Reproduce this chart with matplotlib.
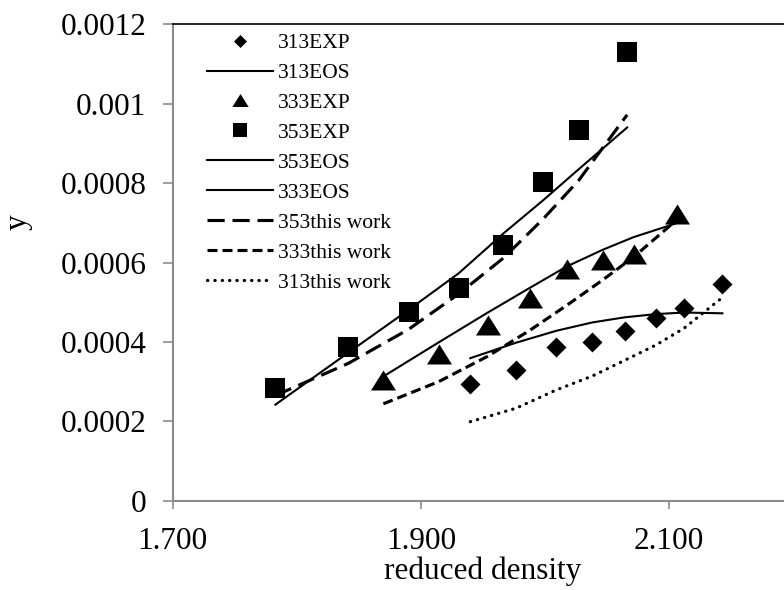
import matplotlib
matplotlib.use("Agg")
import matplotlib.pyplot as plt
from matplotlib.ticker import FixedLocator, FixedFormatter

plt.rcParams['font.family'] = ['Liberation Serif', 'DejaVu Serif']

# ---- data ----
x313 = [1.9399, 1.9768, 2.0092, 2.0382, 2.0646, 2.0894, 2.1120, 2.1431]
y313_exp = [0.000295, 0.000329, 0.000387, 0.000401, 0.000428, 0.000459, 0.000486, 0.000545]
y313_eos = [0.000359, 0.000398, 0.000428, 0.000449, 0.000462, 0.000470, 0.000474, 0.000472]
y313_tw = [0.000199, 0.000233, 0.000279, 0.000314, 0.000354, 0.000392, 0.000434, 0.000512]

x333 = [1.8698, 1.9145, 1.9540, 1.9878, 2.0176, 2.0466, 2.0716, 2.1062]
y333_exp = [0.000303, 0.000370, 0.000443, 0.000511, 0.000584, 0.000606, 0.000622, 0.000721]
y333_eos = [0.000313, 0.000399, 0.000474, 0.000536, 0.000590, 0.000632, 0.000664, 0.000699]
y333_tw = [0.000244, 0.000300, 0.000364, 0.000429, 0.000492, 0.000556, 0.000614, 0.000707]

x353 = [1.7828, 1.8416, 1.8903, 1.9306, 1.9665, 1.9987, 2.0273, 2.0663]
y353_exp = [0.000284, 0.000387, 0.000476, 0.000536, 0.000644, 0.000804, 0.000933, 0.001130]
y353_eos = [0.000242, 0.000373, 0.000481, 0.000573, 0.000673, 0.000757, 0.000835, 0.000940]
y353_tw = [0.000265, 0.000346, 0.000432, 0.000521, 0.000611, 0.000710, 0.000807, 0.000972]

x_ticks = [1.7, 1.9, 2.1]
x_ticklabels = ['1.700', '1.900', '2.100']
y_ticks = [0, 0.0002, 0.0004, 0.0006, 0.0008, 0.001, 0.0012]
y_ticklabels = ['0', '0.0002', '0.0004', '0.0006', '0.0008', '0.001', '0.0012']

# ---- figure ----
W, H = 784, 590
fig = plt.figure(figsize=(W / 100, H / 100), dpi=100)
ax = fig.add_axes([172.7 / W, 1 - 500.7 / H, 620.3 / W, 476.4 / H])

diamond = [(0, 1), (1, 0), (0, -1), (-1, 0)]
triangle = [(-1, -0.8), (1, -0.8), (0, 0.8)]

lw_solid = 1.5
lw_dash = 2.25

ax.plot(x313, y313_exp, linestyle='none', marker=diamond, ms=14.4, color='black', mec='black', mew=0, label='313EXP')
ax.plot(x313, y313_eos, '-', color='black', lw=lw_solid, label='313EOS')
ax.plot(x333, y333_exp, linestyle='none', marker=triangle, ms=18, color='black', mec='black', mew=0, label='333EXP')
ax.plot(x353, y353_exp, linestyle='none', marker='s', ms=14.4, color='black', mec='black', mew=0, label='353EXP')
ax.plot(x353, y353_eos, '-', color='black', lw=lw_solid, label='353EOS')
ax.plot(x333, y333_eos, '-', color='black', lw=lw_solid, label='333EOS')
ax.plot(x353, y353_tw, color='black', lw=lw_dash, dashes=(5.5, 2.5), label='353this work')
ax.plot(x333, y333_tw, color='black', lw=lw_dash, dashes=(3.2, 1.6), label='333this work')
ax.plot(x313, y313_tw, color='black', lw=2.3, dashes=(0.1, 2.2), dash_capstyle='round', label='313this work')

ax.set_xlim(1.7, 2.2)
ax.set_ylim(0, 0.0012)
ax.xaxis.set_major_locator(FixedLocator(x_ticks))
ax.xaxis.set_major_formatter(FixedFormatter(x_ticklabels))
ax.yaxis.set_major_locator(FixedLocator(y_ticks))
ax.yaxis.set_major_formatter(FixedFormatter(y_ticklabels))

grey = '#8c8c8c'
for s in ['left', 'bottom']:
    ax.spines[s].set_color(grey)
    ax.spines[s].set_linewidth(1.5)
ax.spines['top'].set_color('black')
ax.spines['top'].set_linewidth(1.2)
ax.spines['right'].set_visible(False)

ax.tick_params(axis='both', direction='out', color=grey, width=1.2, labelsize=22.5, labelcolor='black')
ax.tick_params(axis='y', length=7, pad=12)
ax.tick_params(axis='x', length=6, pad=13)

ax.set_xlabel('reduced density', fontsize=22.5, labelpad=0)
ax.set_ylabel('y', fontsize=22.5)
ax.yaxis.set_label_coords((18 - 172.7) / 620.3, (500.7 - 222) / 476.4)
ax.yaxis.label.set_va('center')

leg = ax.legend(loc='upper left', bbox_to_anchor=(206.7 / W, 1 - 33 / H), bbox_transform=fig.transFigure,
                frameon=False, fontsize=15.5, handlelength=3.07, handletextpad=0.25,
                labelspacing=0.46, borderpad=0, borderaxespad=0, markerscale=0.65)

fig.savefig('out.png', dpi=100)
